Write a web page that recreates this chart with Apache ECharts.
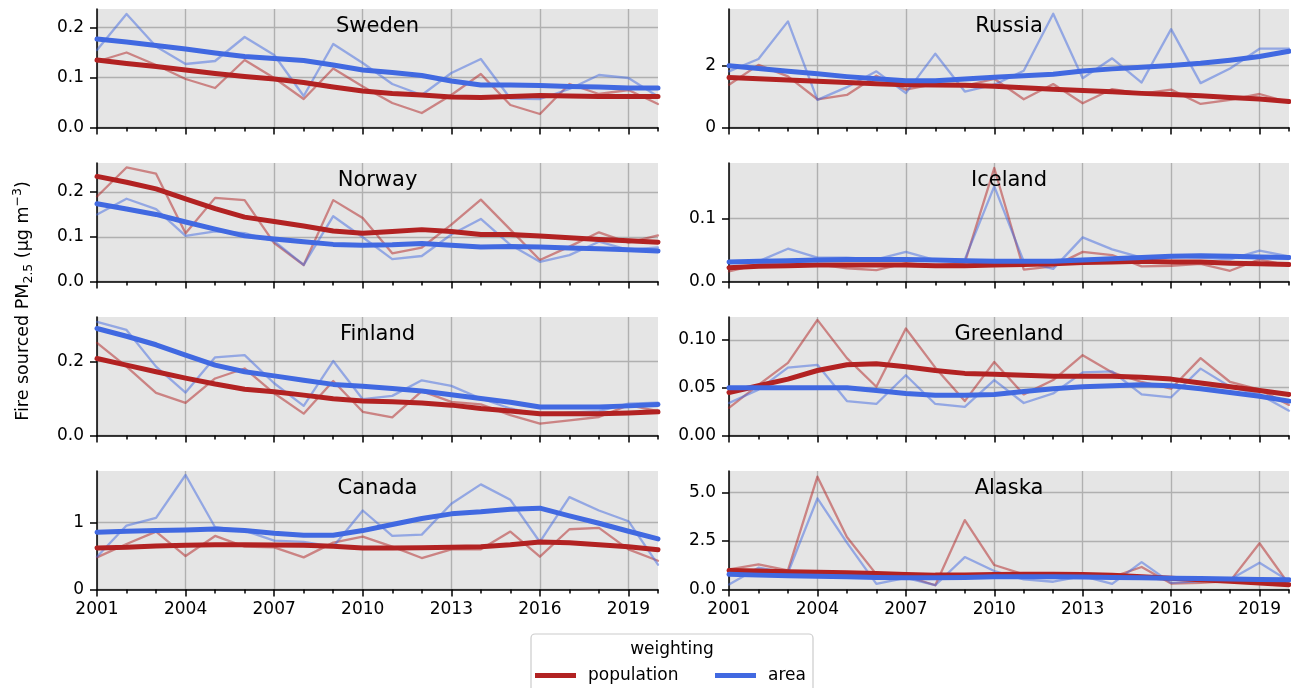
<!DOCTYPE html>
<html>
<head>
<meta charset="utf-8">
<script src="https://cdn.jsdelivr.net/npm/echarts@6/dist/echarts.min.js"></script>
<style>
  html, body { margin: 0; padding: 0; background: #fff; }
  #chart { width: 1291px; height: 688px; }
</style>
</head>
<body>
<div id="chart"></div>
<script>
const years = [2001, 2002, 2003, 2004, 2005, 2006, 2007, 2008, 2009, 2010, 2011, 2012, 2013, 2014, 2015, 2016, 2017, 2018, 2019, 2020];
const majorYears = [2001, 2004, 2007, 2010, 2013, 2016, 2019];

// raw yearly values (thin) and smoothed trends (thick)
const swedenPop = [0.132, 0.150, 0.125, 0.097, 0.079, 0.135, 0.099, 0.057, 0.118, 0.082, 0.049, 0.029, 0.065, 0.107, 0.045, 0.027, 0.087, 0.067, 0.075, 0.047];
const swedenArea = [0.155, 0.227, 0.162, 0.127, 0.133, 0.181, 0.145, 0.063, 0.167, 0.129, 0.087, 0.065, 0.109, 0.137, 0.058, 0.057, 0.077, 0.105, 0.099, 0.062];
const swedenPopTrend = [0.135, 0.128, 0.122, 0.115, 0.108, 0.102, 0.097, 0.090, 0.081, 0.073, 0.068, 0.065, 0.061, 0.060, 0.062, 0.064, 0.063, 0.062, 0.062, 0.062];
const swedenAreaTrend = [0.177, 0.171, 0.164, 0.157, 0.149, 0.142, 0.138, 0.134, 0.125, 0.115, 0.110, 0.104, 0.093, 0.085, 0.085, 0.084, 0.082, 0.081, 0.079, 0.079];

const russiaPop = [1.38, 2.02, 1.65, 0.91, 1.05, 1.67, 1.22, 1.41, 1.34, 1.57, 0.91, 1.40, 0.78, 1.24, 1.09, 1.22, 0.76, 0.89, 1.08, 0.81];
const russiaArea = [1.81, 2.21, 3.42, 0.89, 1.30, 1.81, 1.11, 2.38, 1.16, 1.38, 1.83, 3.67, 1.59, 2.23, 1.45, 3.17, 1.43, 1.90, 2.54, 2.54];
const russiaPopTrend = [1.61, 1.57, 1.53, 1.49, 1.45, 1.41, 1.38, 1.37, 1.36, 1.33, 1.28, 1.23, 1.19, 1.15, 1.10, 1.06, 1.02, 0.97, 0.92, 0.84];
const russiaAreaTrend = [1.99, 1.90, 1.81, 1.73, 1.64, 1.57, 1.51, 1.51, 1.56, 1.62, 1.67, 1.72, 1.82, 1.89, 1.94, 2.00, 2.07, 2.17, 2.29, 2.46];

const norwayPop = [0.190, 0.255, 0.241, 0.108, 0.187, 0.182, 0.086, 0.037, 0.182, 0.142, 0.063, 0.076, 0.127, 0.183, 0.116, 0.048, 0.078, 0.110, 0.087, 0.103];
const norwayArea = [0.150, 0.185, 0.162, 0.102, 0.112, 0.108, 0.090, 0.037, 0.146, 0.099, 0.050, 0.057, 0.105, 0.140, 0.082, 0.044, 0.059, 0.089, 0.071, 0.076];
const norwayPopTrend = [0.235, 0.222, 0.207, 0.185, 0.163, 0.144, 0.134, 0.124, 0.113, 0.108, 0.112, 0.116, 0.112, 0.105, 0.105, 0.102, 0.098, 0.094, 0.091, 0.088];
const norwayAreaTrend = [0.174, 0.162, 0.150, 0.133, 0.117, 0.102, 0.095, 0.089, 0.083, 0.081, 0.082, 0.085, 0.081, 0.077, 0.078, 0.077, 0.075, 0.073, 0.071, 0.068];

const icelandPop = [0.016, 0.027, 0.030, 0.027, 0.021, 0.018, 0.029, 0.025, 0.030, 0.180, 0.019, 0.024, 0.047, 0.042, 0.024, 0.025, 0.028, 0.017, 0.035, 0.025];
const icelandArea = [0.030, 0.032, 0.052, 0.038, 0.038, 0.035, 0.047, 0.034, 0.035, 0.151, 0.032, 0.020, 0.070, 0.051, 0.038, 0.039, 0.038, 0.035, 0.049, 0.040];
const icelandPopTrend = [0.022, 0.024, 0.025, 0.026, 0.026, 0.026, 0.026, 0.025, 0.025, 0.026, 0.027, 0.028, 0.030, 0.031, 0.032, 0.031, 0.031, 0.029, 0.028, 0.027];
const icelandAreaTrend = [0.031, 0.032, 0.033, 0.034, 0.035, 0.035, 0.035, 0.034, 0.033, 0.032, 0.032, 0.032, 0.034, 0.036, 0.038, 0.040, 0.041, 0.040, 0.039, 0.038];

const finlandPop = [0.250, 0.186, 0.115, 0.088, 0.154, 0.181, 0.114, 0.059, 0.147, 0.064, 0.049, 0.120, 0.091, 0.084, 0.055, 0.032, 0.041, 0.050, 0.082, 0.066];
const finlandArea = [0.307, 0.285, 0.186, 0.116, 0.211, 0.217, 0.141, 0.080, 0.201, 0.098, 0.107, 0.149, 0.134, 0.100, 0.073, 0.055, 0.062, 0.066, 0.086, 0.089];
const finlandPopTrend = [0.208, 0.190, 0.172, 0.155, 0.139, 0.125, 0.118, 0.109, 0.099, 0.093, 0.091, 0.088, 0.082, 0.073, 0.066, 0.059, 0.059, 0.059, 0.061, 0.064];
const finlandAreaTrend = [0.289, 0.268, 0.245, 0.217, 0.190, 0.172, 0.161, 0.149, 0.138, 0.133, 0.127, 0.120, 0.110, 0.100, 0.090, 0.077, 0.077, 0.077, 0.080, 0.084];

const greenlandPop = [0.029, 0.053, 0.076, 0.121, 0.081, 0.051, 0.112, 0.071, 0.036, 0.077, 0.043, 0.058, 0.084, 0.066, 0.056, 0.049, 0.081, 0.056, 0.048, 0.032];
const greenlandArea = [0.034, 0.048, 0.071, 0.074, 0.036, 0.033, 0.063, 0.033, 0.030, 0.058, 0.034, 0.044, 0.066, 0.067, 0.043, 0.040, 0.070, 0.051, 0.043, 0.026];
const greenlandPopTrend = [0.045, 0.052, 0.059, 0.068, 0.074, 0.075, 0.072, 0.068, 0.065, 0.064, 0.063, 0.062, 0.062, 0.062, 0.061, 0.059, 0.055, 0.051, 0.047, 0.043];
const greenlandAreaTrend = [0.050, 0.050, 0.050, 0.050, 0.050, 0.047, 0.044, 0.042, 0.042, 0.043, 0.046, 0.049, 0.051, 0.052, 0.053, 0.052, 0.049, 0.045, 0.041, 0.036];

const canadaPop = [0.48, 0.68, 0.865, 0.50, 0.80, 0.64, 0.63, 0.48, 0.70, 0.79, 0.64, 0.47, 0.60, 0.60, 0.865, 0.49, 0.90, 0.92, 0.60, 0.43];
const canadaArea = [0.49, 0.955, 1.07, 1.71, 0.93, 0.88, 0.73, 0.71, 0.64, 1.18, 0.80, 0.82, 1.28, 1.57, 1.34, 0.71, 1.38, 1.18, 1.02, 0.37];
const canadaPopTrend = [0.62, 0.63, 0.65, 0.66, 0.67, 0.67, 0.665, 0.66, 0.645, 0.62, 0.62, 0.625, 0.63, 0.64, 0.67, 0.71, 0.70, 0.67, 0.64, 0.595];
const canadaAreaTrend = [0.855, 0.87, 0.88, 0.89, 0.905, 0.88, 0.84, 0.81, 0.81, 0.88, 0.97, 1.06, 1.13, 1.16, 1.20, 1.215, 1.10, 0.99, 0.87, 0.755];

const alaskaPop = [1.03, 1.29, 0.98, 5.81, 2.70, 0.78, 0.69, 0.22, 3.57, 1.26, 0.78, 0.72, 0.69, 0.64, 1.16, 0.31, 0.34, 0.43, 2.38, 0.26];
const alaskaArea = [0.26, 1.12, 0.86, 4.69, 2.41, 0.29, 0.60, 0.22, 1.67, 0.95, 0.52, 0.40, 0.69, 0.29, 1.41, 0.34, 0.43, 0.52, 1.38, 0.43];
const alaskaPopTrend = [0.98, 0.95, 0.92, 0.89, 0.86, 0.82, 0.77, 0.74, 0.75, 0.77, 0.78, 0.79, 0.77, 0.73, 0.66, 0.58, 0.50, 0.42, 0.33, 0.25];
const alaskaAreaTrend = [0.78, 0.74, 0.71, 0.68, 0.65, 0.62, 0.60, 0.60, 0.62, 0.65, 0.66, 0.66, 0.64, 0.62, 0.60, 0.58, 0.56, 0.54, 0.52, 0.50];

// y tick values per panel
const swedenTicks = [0, 0.1, 0.2];
const russiaTicks = [0, 2];
const norwayTicks = [0, 0.1, 0.2];
const icelandTicks = [0, 0.1];
const finlandTicks = [0, 0.2];
const greenlandTicks = [0, 0.05, 0.1];
const canadaTicks = [0, 1];
const alaskaTicks = [0, 2.5, 5];

const panels = [
  { name: 'Sweden', pop: swedenPop, area: swedenArea, popT: swedenPopTrend, areaT: swedenAreaTrend, ticks: swedenTicks, yMax: 0.237, digits: 1 },
  { name: 'Russia', pop: russiaPop, area: russiaArea, popT: russiaPopTrend, areaT: russiaAreaTrend, ticks: russiaTicks, yMax: 3.82, digits: 0 },
  { name: 'Norway', pop: norwayPop, area: norwayArea, popT: norwayPopTrend, areaT: norwayAreaTrend, ticks: norwayTicks, yMax: 0.265, digits: 1 },
  { name: 'Iceland', pop: icelandPop, area: icelandArea, popT: icelandPopTrend, areaT: icelandAreaTrend, ticks: icelandTicks, yMax: 0.188, digits: 1 },
  { name: 'Finland', pop: finlandPop, area: finlandArea, popT: finlandPopTrend, areaT: finlandAreaTrend, ticks: finlandTicks, yMax: 0.32, digits: 1 },
  { name: 'Greenland', pop: greenlandPop, area: greenlandArea, popT: greenlandPopTrend, areaT: greenlandAreaTrend, ticks: greenlandTicks, yMax: 0.124, digits: 2 },
  { name: 'Canada', pop: canadaPop, area: canadaArea, popT: canadaPopTrend, areaT: canadaAreaTrend, ticks: canadaTicks, yMax: 1.77, digits: 0 },
  { name: 'Alaska', pop: alaskaPop, area: alaskaArea, popT: alaskaPopTrend, areaT: alaskaAreaTrend, ticks: alaskaTicks, yMax: 6.1, digits: 1 }
];

const RED = '#b22222';
const BLUE = '#4169e1';
const FONT = 'DejaVu Sans';
const colLeft = [97, 729];
const colWidth = [561, 560];
const rowTop = [9, 163, 317, 471];
const rowHeight = 118.5;

const chart = echarts.init(document.getElementById('chart'), null, { renderer: 'canvas' });

const grids = [], xAxes = [], yAxes = [], series = [], graphics = [];
const blackLine = { color: '#000', width: 1.5 };
const gridLine = { color: '#b0b0b0', width: 1.4 };

panels.forEach((p, i) => {
  const col = i % 2, row = Math.floor(i / 2);
  const bottomRow = row === 3;
  grids.push({
    left: colLeft[col], top: rowTop[row], width: colWidth[col], height: rowHeight,
    show: true, backgroundColor: '#e5e5e5', borderWidth: 0
  });
  // major x axis (labels + grid lines)
  xAxes.push({
    type: 'value', gridIndex: i, min: 2001, max: 2020, position: 'bottom',
    axisLine: { show: true, onZero: false, lineStyle: blackLine },
    axisTick: { show: true, length: 7, customValues: majorYears, lineStyle: blackLine },
    axisLabel: {
      show: bottomRow, customValues: majorYears, fontSize: 17, fontFamily: FONT,
      color: '#000', margin: 12, formatter: v => String(v)
    },
    splitLine: { show: true, lineStyle: gridLine }
  });
  // minor x ticks every year
  xAxes.push({
    type: 'value', gridIndex: i, min: 2001, max: 2020, position: 'bottom', offset: 0,
    axisLine: { show: false },
    axisTick: { show: true, length: 4, customValues: years, lineStyle: blackLine },
    axisLabel: { show: false },
    splitLine: { show: false }
  });
  yAxes.push({
    type: 'value', gridIndex: i, min: 0, max: p.yMax,
    axisLine: { show: true, onZero: false, lineStyle: blackLine },
    axisTick: { show: true, length: 7, customValues: p.ticks, lineStyle: blackLine },
    axisLabel: {
      customValues: p.ticks, fontSize: 17, fontFamily: FONT, color: '#000', margin: 13,
      formatter: v => Number(v).toFixed(p.digits)
    },
    splitLine: { show: true, lineStyle: gridLine }
  });
  const mk = (name, arr, color, width, opacity) => ({
    name, type: 'line', xAxisIndex: 2 * i, yAxisIndex: i,
    data: years.map((y, k) => [y, arr[k]]),
    symbol: 'none', silent: true, animation: false,
    itemStyle: { color },
    lineStyle: { color, width, opacity, cap: 'round', join: 'round' }
  });
  series.push(mk('population raw', p.pop, RED, 2.3, 0.5));
  series.push(mk('area raw', p.area, BLUE, 2.3, 0.5));
  series.push(mk('population', p.popT, RED, 5, 1));
  series.push(mk('area', p.areaT, BLUE, 5, 1));
  graphics.push({
    type: 'text', x: colLeft[col] + colWidth[col] / 2, y: rowTop[row] + 18,
    style: { text: p.name, fontSize: 21, fontFamily: FONT, fill: '#000', align: 'center', verticalAlign: 'middle' },
    z: 100
  });
});

// shared y axis title
graphics.push({
  type: 'text', x: 23, y: 301, rotation: Math.PI / 2,
  style: {
    text: '{a|Fire sourced PM}{s|2.5}{a| (μg m}{p|−3}{a|)}',
    align: 'center', verticalAlign: 'middle', fill: '#000', fontFamily: FONT,
    rich: {
      a: { fontSize: 17.5, fontFamily: FONT, lineHeight: 24, verticalAlign: 'middle' },
      s: { fontSize: 12.5, fontFamily: FONT, lineHeight: 24, verticalAlign: 'bottom' },
      p: { fontSize: 12.5, fontFamily: FONT, lineHeight: 24, verticalAlign: 'top' }
    }
  }
});

// legend frame and title
graphics.push({
  type: 'rect', shape: { x: 531, y: 634, width: 282, height: 70, r: 4 },
  style: { fill: '#fff', stroke: '#cccccc', lineWidth: 1.2 }, z: 1
});
graphics.push({
  type: 'text', x: 672, y: 650,
  style: { text: 'weighting', fontSize: 17, fontFamily: FONT, fill: '#000', align: 'center', verticalAlign: 'middle' },
  z: 2
});

const legendBase = {
  top: 667, icon: 'rect', itemWidth: 41, itemHeight: 5, selectedMode: false, padding: 0, z: 10,
  textStyle: { fontSize: 17, fontFamily: FONT, color: '#000', padding: [0, 0, 0, 7] }
};

chart.setOption({
  animation: false,
  backgroundColor: '#fff',
  textStyle: { fontFamily: FONT },
  grid: grids,
  xAxis: xAxes,
  yAxis: yAxes,
  series: series,
  graphic: graphics,
  legend: [
    Object.assign({}, legendBase, { data: ['population'], left: 535 }),
    Object.assign({}, legendBase, { data: ['area'], left: 715 })
  ]
});
</script>
</body>
</html>
